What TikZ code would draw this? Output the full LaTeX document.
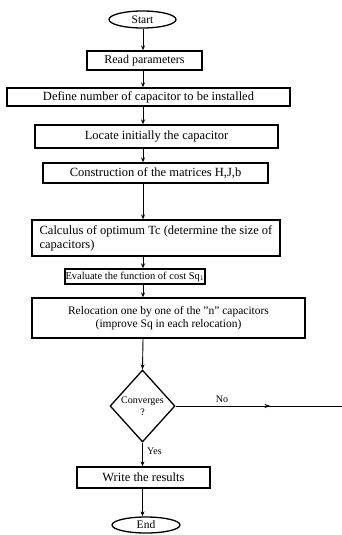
\documentclass[tikz,border=0pt]{standalone}
\usepackage{fontspec}
\setmainfont{Liberation Serif}
\usetikzlibrary{shapes.geometric,arrows.meta,decorations.markings}
\begin{document}
\begin{tikzpicture}[x=1pt,y=-1pt,
  every node/.style={font=\fontsize{12.5}{14}\selectfont},
  box/.style={draw,line width=1.3pt,rectangle,inner sep=1pt},
  term/.style={draw,line width=1.3pt,ellipse,inner sep=0pt},
  dec/.style={draw,line width=1.3pt,diamond,inner sep=0pt},
  flow/.style={line width=0.9pt,-{Stealth[length=5pt,width=4pt]}},
  lbl/.style={font=\fontsize{10}{11}\selectfont,inner sep=1pt}]
\useasboundingbox[fill=white] (0,0) rectangle (342,535);
\node[term,minimum width=67pt,minimum height=17pt,font=\fontsize{11.5}{12}\selectfont] (start) at (142.5,19.5) {Start};
\node[box,minimum width=115pt,minimum height=19pt,font=\fontsize{12}{13}\selectfont] (read) at (144.5,60.5) {Read parameters};
\node[box,minimum width=283pt,minimum height=18pt] (define) at (148.5,97) {Define number of capacitor to be installed};
\node[box,minimum width=243pt,minimum height=23pt] (locate) at (156.5,136.5) {Locate initially the capacitor};
\node[box,minimum width=225pt,minimum height=20pt] (constr) at (155.5,173) {Construction of the matrices H,J,b};
\node[box,minimum width=248pt,minimum height=36pt,align=left] (calc) at (156,238) {Calculus of optimum Tc (determine the size of\\capacitors)};
\node[box,minimum width=124pt,minimum height=15pt,inner sep=0.5pt,font=\fontsize{10.5}{11}\selectfont] (eval) at (135,276.5) {Evaluate the function of cost Sq$_1$};
\node[box,minimum width=273pt,minimum height=40pt,align=center,font=\fontsize{11.5}{13}\selectfont] (reloc) at (168.5,318) {Relocation one by one of the "n" capacitors\\(improve Sq in each relocation)};
\node[dec,minimum width=65pt,minimum height=72pt] (conv) at (142.5,406) {};
\node[align=center,font=\fontsize{10}{12}\selectfont,inner sep=0pt] (convtxt) at (conv.center) {Converges\\?};
\node[box,minimum width=133pt,minimum height=21pt,font=\fontsize{12.5}{14}\selectfont] (write) at (143.5,477.5) {Write the results};
\node[term,minimum width=68pt,minimum height=16pt,font=\fontsize{11.5}{12}\selectfont] (end) at (146,525) {End};
\coordinate (ax) at (143,0);
\coordinate (out) at (342,406);
\draw[flow] (start.south -| ax) -- (read.north -| ax);
\draw[flow] (read.south -| ax) -- (define.north -| ax);
\draw[flow] (define.south -| ax) -- (locate.north -| ax);
\draw[flow] (locate.south -| ax) -- (constr.north -| ax);
\draw[flow] (constr.south -| ax) -- (calc.north -| ax);
\draw[flow] (calc.south -| ax) -- (eval.north -| ax);
\draw[flow] (eval.south -| ax) -- (reloc.north -| ax);
\draw[flow] (reloc.south -| ax) -- (conv.north);
\draw[flow] (conv.south) -- (write.north -| conv.south);
\draw[flow] (write.south -| conv.south) -- (end.north -| conv.south);
\draw[line width=0.9pt,postaction={decorate},decoration={markings,mark=at position 0.57 with {\arrow{Stealth[length=6pt,width=4pt]}}}] (conv.east) -- (out);
\node[lbl,anchor=south] (no) at (222,404) {No};
\node[lbl,anchor=west] (yes) at (146,451) {Yes};
\end{tikzpicture}
\end{document}
